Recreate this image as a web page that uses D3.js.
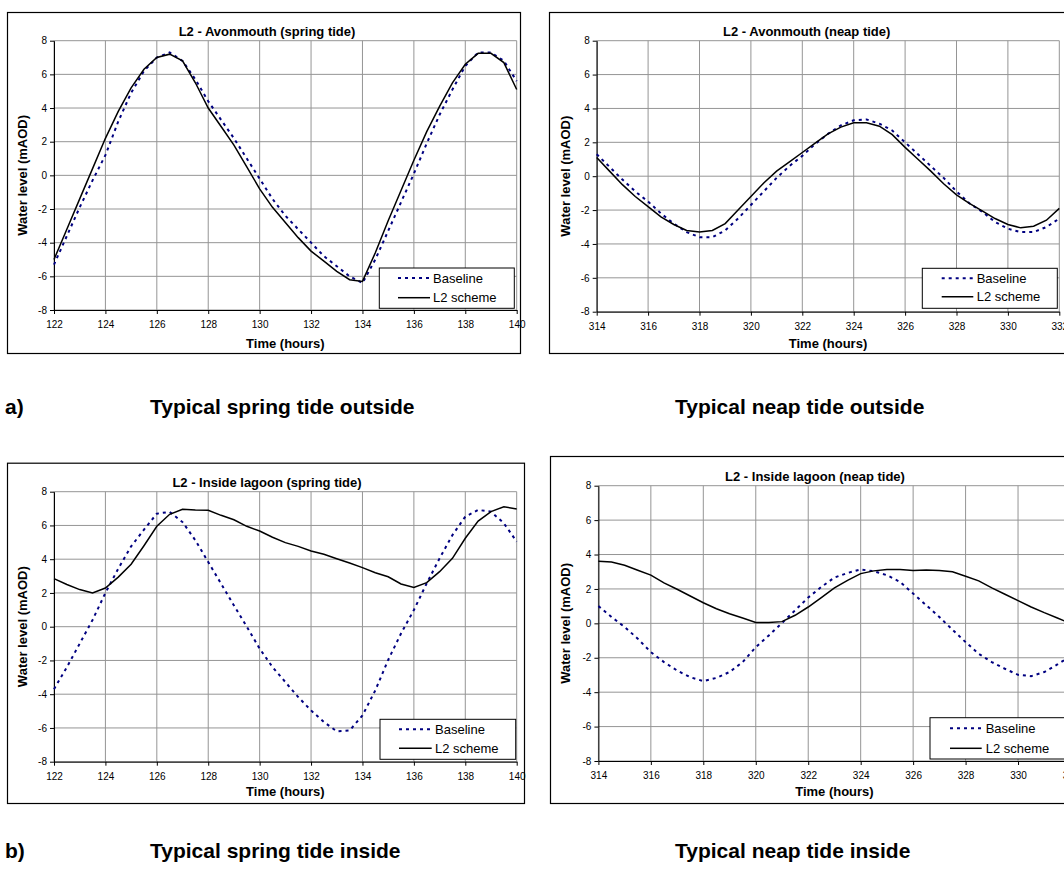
<!DOCTYPE html>
<html>
<head>
<meta charset="utf-8">
<script src="https://cdn.jsdelivr.net/npm/d3@7"></script>
<style>
  body { margin: 0; background: #fff; }
  text { font-family: "Liberation Sans", Arial, sans-serif; }
</style>
</head>
<body>
<script>
// time axis (hours), one value every half hour
var springTimes = [122, 122.5, 123, 123.5, 124, 124.5, 125, 125.5, 126, 126.5, 127, 127.5, 128, 128.5, 129, 129.5, 130, 130.5,
                   131, 131.5, 132, 132.5, 133, 133.5, 134, 134.5, 135, 135.5, 136, 136.5, 137, 137.5, 138, 138.5, 139, 139.5, 140];
var neapTimes = [314, 314.5, 315, 315.5, 316, 316.5, 317, 317.5, 318, 318.5, 319, 319.5, 320, 320.5, 321, 321.5, 322, 322.5,
                 323, 323.5, 324, 324.5, 325, 325.5, 326, 326.5, 327, 327.5, 328, 328.5, 329, 329.5, 330, 330.5, 331, 331.5, 332];

var springTicks = [122, 124, 126, 128, 130, 132, 134, 136, 138, 140];
var neapTicks = [314, 316, 318, 320, 322, 324, 326, 328, 330, 332];
var levelTicks = [-8, -6, -4, -2, 0, 2, 4, 6, 8];

// water levels (mAOD)
var springOutBase = [-5.3, -3.6, -1.9, -0.3, 1.2, 3.2, 4.9, 6.2, 7.0, 7.3, 6.8, 5.7, 4.4, 3.3, 2.2, 1.0, -0.2, -1.4,
                     -2.4, -3.2, -4.0, -4.8, -5.4, -6.0, -6.4, -5.0, -3.3, -1.6, 0.1, 1.9, 3.6, 5.1, 6.5, 7.3, 7.3, 6.8, 5.6];
var springOutL2 = [-5.0, -3.2, -1.4, 0.4, 2.2, 3.8, 5.2, 6.3, 7.0, 7.2, 6.8, 5.5, 4.0, 2.9, 1.8, 0.5, -0.8, -1.9,
                   -2.8, -3.7, -4.5, -5.1, -5.7, -6.2, -6.3, -4.6, -2.7, -0.9, 0.9, 2.6, 4.1, 5.5, 6.6, 7.25, 7.25, 6.7, 5.1];
var neapOutBase = [1.3, 0.55, -0.2, -0.9, -1.5, -2.2, -2.8, -3.3, -3.6, -3.6, -3.2, -2.5, -1.7, -0.9, -0.1, 0.6, 1.2, 1.9,
                   2.5, 3.0, 3.3, 3.35, 3.1, 2.7, 2.0, 1.3, 0.6, -0.1, -0.9, -1.6, -2.1, -2.7, -3.1, -3.3, -3.3, -3.0, -2.5];
var neapOutL2 = [1.1, 0.3, -0.5, -1.2, -1.8, -2.4, -2.85, -3.2, -3.3, -3.2, -2.8, -2.0, -1.2, -0.4, 0.3, 0.85, 1.4, 1.95,
                 2.5, 2.9, 3.15, 3.15, 2.95, 2.45, 1.7, 1.0, 0.3, -0.45, -1.1, -1.6, -2.05, -2.5, -2.85, -3.05, -2.95, -2.6, -1.9];
var springInBase = [-3.7, -2.4, -1.0, 0.4, 2.0, 3.44, 4.76, 5.75, 6.7, 6.8, 6.2, 5.12, 3.83, 2.55, 1.26, 0.0, -1.3, -2.39,
                    -3.28, -4.17, -4.96, -5.65, -6.2, -6.15, -5.26, -3.77, -1.97, -0.4, 0.99, 2.57, 4.05, 5.43, 6.52, 6.92, 6.82, 6.13, 5.04];
var springInL2 = [2.85, 2.5, 2.2, 2.0, 2.29, 2.94, 3.7, 4.8, 5.95, 6.66, 6.96, 6.92, 6.9, 6.6, 6.34, 5.95, 5.67, 5.3,
                  4.98, 4.76, 4.49, 4.29, 4.03, 3.77, 3.5, 3.2, 2.96, 2.53, 2.33, 2.61, 3.26, 4.05, 5.24, 6.26, 6.82, 7.11, 6.97];
var neapInBase = [1.0, 0.37, -0.21, -0.89, -1.67, -2.25, -2.74, -3.13, -3.36, -3.17, -2.83, -2.25, -1.38, -0.7, 0.02, 0.76, 1.5, 2.12,
                  2.66, 2.93, 3.13, 3.03, 2.8, 2.41, 1.73, 1.05, 0.37, -0.37, -1.09, -1.77, -2.25, -2.64, -2.99, -3.07, -2.83, -2.39, -1.9];
var neapInL2 = [3.61, 3.57, 3.38, 3.09, 2.8, 2.35, 1.98, 1.59, 1.2, 0.85, 0.56, 0.31, 0.05, 0.05, 0.1, 0.47, 0.95, 1.5,
                2.06, 2.5, 2.89, 3.05, 3.13, 3.13, 3.07, 3.1, 3.07, 3.0, 2.74, 2.47, 2.06, 1.69, 1.32, 0.95, 0.62, 0.31, 0.0];

var seriesNames = ['Baseline', 'L2 scheme'];

var W = 1064, H = 870;
var svg = d3.select('body').append('svg')
  .attr('width', W).attr('height', H);
svg.append('rect').attr('width', W).attr('height', H).attr('fill', '#fff');

var panels = [
  { title: 'L2 - Avonmouth (spring tide)', times: springTimes, ticks: springTicks, base: springOutBase, l2: springOutL2,
    frame: [7, 12, 520, 353], plot: [54, 516.7, 40.7, 310], titleX: 267, titleY: 35.5, ylabX: 22.7, xlabY: 348,
    leg: { x: 379.3, y: 268, w: 135, h: 40.3, r1: 278, r2: 297.7, lx1: 398, lx2: 430, tx: 433 } },
  { title: 'L2 - Avonmouth (neap tide)', times: neapTimes, ticks: neapTicks, base: neapOutBase, l2: neapOutL2,
    frame: [549, 12, 1075, 353], plot: [596.7, 1059.3, 40.7, 311.7], titleX: 806.7, titleY: 35.5, ylabX: 565.4, xlabY: 348,
    leg: { x: 922.3, y: 268.3, w: 135, h: 40, r1: 278.3, r2: 296.7, lx1: 941.7, lx2: 973.3, tx: 976.7 } },
  { title: 'L2 - Inside lagoon (spring tide)', times: springTimes, ticks: springTicks, base: springInBase, l2: springInL2,
    frame: [7, 462.7, 524, 803], plot: [54, 516.7, 491.7, 761.7], titleX: 267, titleY: 486.5, ylabX: 22.7, xlabY: 796,
    leg: { x: 380, y: 719.3, w: 135.7, h: 40, r1: 729.3, r2: 748.3, lx1: 399, lx2: 431.7, tx: 435 } },
  { title: 'L2 - Inside lagoon (neap tide)', times: neapTimes, ticks: neapTicks, base: neapInBase, l2: neapInL2,
    frame: [550, 456, 1080, 803], plot: [598.4, 1070.5, 485.7, 761], titleX: 815, titleY: 481, ylabX: 565.4, xlabY: 796,
    leg: { x: 930, y: 717.7, w: 136, h: 41.3, r1: 728.3, r2: 748.3, lx1: 950, lx2: 981.7, tx: 985.7 } }
];

panels.forEach(drawPanel);

function drawPanel(p) {
  var g = svg.append('g');
  var f = p.frame, pl = p.plot;
  var x = d3.scaleLinear().domain(d3.extent(p.ticks)).range([pl[0], pl[1]]);
  var y = d3.scaleLinear().domain([-8, 8]).range([pl[3], pl[2]]);

  // chart area frame
  g.append('rect')
    .attr('x', f[0] + 0.5).attr('y', f[1] + 0.5)
    .attr('width', f[2] - f[0]).attr('height', f[3] - f[1])
    .attr('fill', '#fff').attr('stroke', '#000').attr('stroke-width', 1.2);

  // grid
  g.selectAll('.hg').data(levelTicks).enter().append('line')
    .attr('x1', pl[0]).attr('x2', pl[1])
    .attr('y1', function(d) { return y(d); }).attr('y2', function(d) { return y(d); })
    .attr('stroke', '#959595').attr('stroke-width', 1);
  g.selectAll('.vg').data(p.ticks).enter().append('line')
    .attr('x1', function(d) { return x(d); }).attr('x2', function(d) { return x(d); })
    .attr('y1', pl[2]).attr('y2', pl[3])
    .attr('stroke', '#959595').attr('stroke-width', 1);

  // axes
  var ya = g.append('g').attr('transform', 'translate(' + pl[0] + ',0)')
    .call(d3.axisLeft(y).tickValues(levelTicks).tickSize(4).tickSizeOuter(0).tickPadding(3)
      .tickFormat(function(d) { return String(d); }));
  var xa = g.append('g').attr('transform', 'translate(0,' + pl[3] + ')')
    .call(d3.axisBottom(x).tickValues(p.ticks).tickSize(4).tickSizeOuter(0).tickPadding(7)
      .tickFormat(function(d) { return String(d); }));
  [ya, xa].forEach(function(a) {
    a.selectAll('path, line').attr('stroke', '#000');
    a.selectAll('text').attr('font-size', 10).attr('fill', '#000')
      .attr('font-family', '"Liberation Sans", Arial, sans-serif');
  });

  // series
  var line = d3.line()
    .x(function(d) { return x(d[0]); })
    .y(function(d) { return y(d[1]); });
  g.append('path').datum(d3.zip(p.times, p.base))
    .attr('d', line).attr('fill', 'none')
    .attr('stroke', '#000080').attr('stroke-width', 2).attr('stroke-dasharray', '3,4');
  g.append('path').datum(d3.zip(p.times, p.l2))
    .attr('d', line).attr('fill', 'none')
    .attr('stroke', '#000').attr('stroke-width', 1.5);

  // texts
  g.append('text').text(p.title)
    .attr('x', p.titleX).attr('y', p.titleY)
    .attr('text-anchor', 'middle').attr('font-size', 13).attr('font-weight', 'bold');
  g.append('text').text('Water level (mAOD)')
    .attr('transform', 'translate(' + p.ylabX + ',' + ((pl[2] + pl[3]) / 2) + ') rotate(-90)')
    .attr('dy', '0.35em')
    .attr('text-anchor', 'middle').attr('font-size', 13).attr('font-weight', 'bold');
  g.append('text').text('Time (hours)')
    .attr('x', (pl[0] + pl[1]) / 2).attr('y', p.xlabY)
    .attr('text-anchor', 'middle').attr('font-size', 13).attr('font-weight', 'bold');

  // legend
  var L = p.leg;
  g.append('rect').attr('x', L.x).attr('y', L.y).attr('width', L.w).attr('height', L.h)
    .attr('fill', '#fff').attr('stroke', '#000').attr('stroke-width', 1);
  g.append('line').attr('x1', L.lx1).attr('x2', L.lx2).attr('y1', L.r1).attr('y2', L.r1)
    .attr('stroke', '#000080').attr('stroke-width', 2).attr('stroke-dasharray', '3,4');
  g.append('line').attr('x1', L.lx1).attr('x2', L.lx2).attr('y1', L.r2).attr('y2', L.r2)
    .attr('stroke', '#000').attr('stroke-width', 1.5);
  [L.r1, L.r2].forEach(function(ry, i) {
    g.append('text').text(seriesNames[i])
      .attr('x', L.tx).attr('y', ry).attr('dy', '0.35em').attr('font-size', 13);
  });
}

// captions under each row
var captions = [
  { lab: 'a)', left: 'Typical spring tide outside', right: 'Typical neap tide outside', y: 414 },
  { lab: 'b)', left: 'Typical spring tide inside', right: 'Typical neap tide inside', y: 858 }
];
captions.forEach(function(c) {
  [[5, c.lab], [150, c.left], [675, c.right]].forEach(function(t) {
    svg.append('text').text(t[1])
      .attr('x', t[0]).attr('y', c.y)
      .attr('font-size', 21).attr('font-weight', 'bold');
  });
});
</script>
</body>
</html>
